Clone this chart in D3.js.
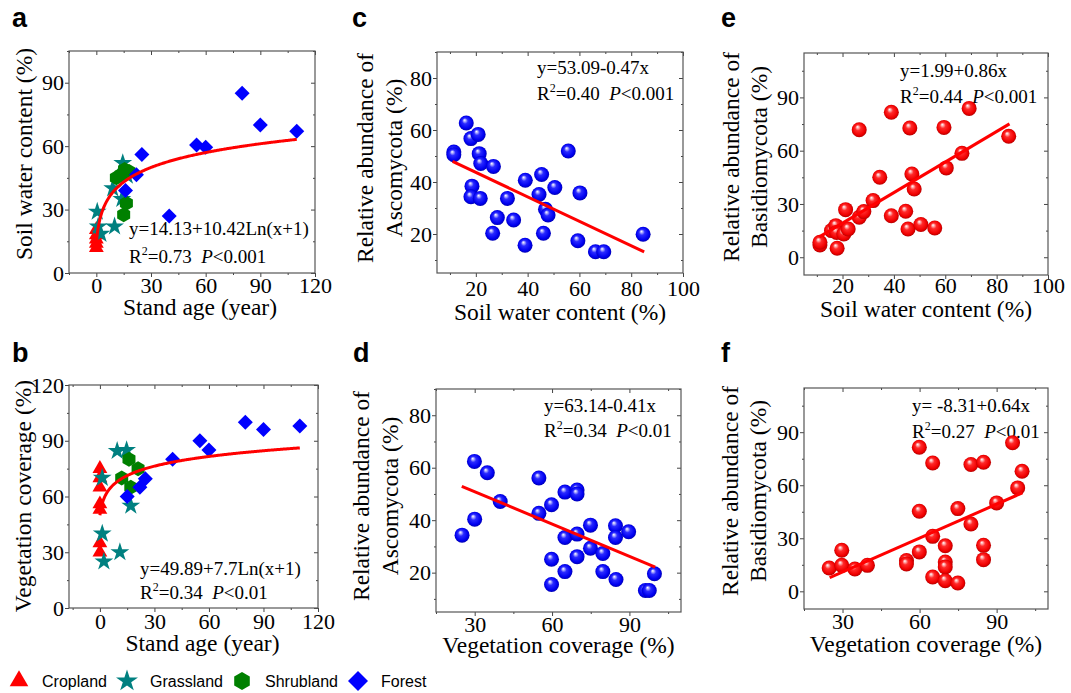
<!DOCTYPE html>
<html>
<head>
<meta charset="utf-8">
<script src="https://cdn.jsdelivr.net/npm/d3@7/dist/d3.min.js"></script>
<style>
  body { margin: 0; background: #fff; }
  svg { display: block; }
</style>
</head>
<body>
<div id="chart-area"></div>
<script>
// ---- data ----
// panel a: stand age (year) vs soil water content (%)
var cropSwc   = [[0,20.5],[0,18],[0,16],[0,14],[0,12]];
var grassSwc  = [[0.5,29],[1,22],[2.5,18.5],[10,22],[9,40],[14.5,52],[14,35],[17,46]];
var shrubSwc  = [[11,45],[13.5,46.5],[15.5,49],[16.5,33],[15,27.5],[18,48]];
var forestSwc = [[16,39],[22,46.5],[25,56],[40,27],[55,60.5],[60,59.5],[80,85],[90,70],[110,67]];

// panel b: stand age (year) vs vegetation coverage (%)
var cropVeg   = [[0,75],[0,70],[0,65],[0,56],[0,53],[0,35],[0,30]];
var grassVeg  = [[1.3,70],[1.3,40],[2.2,25],[9.5,84.5],[14.7,85],[11,30],[17,55]];
var shrubVeg  = [[16,80],[12,70],[21,75],[17,65]];
var forestVeg = [[15,60],[22,65],[25,69.5],[40,80],[55,90],[60,85],[80,100],[90,96],[110,98]];

// panel c: soil water content vs Ascomycota
var ascoSwc = [[11.5,51.5],[11.5,50.5],[16.3,62.7],[18.1,56.7],[20.9,58.3],[21.3,50.9],[21.9,47.1],
  [26.8,46],[18.5,38.4],[18.1,34.3],[21.7,33.7],[39.1,40.7],[45.4,42.9],[55.7,51.9],[50.5,37.9],
  [44.4,35.2],[60.2,35.8],[32.2,33.7],[28.3,26.3],[34.6,25.4],[26.5,20.3],[39,15.7],[46.1,20.3],
  [46.9,29.5],[47.9,27.3],[59.4,17.4],[66.2,13.2],[69.4,13.2],[84.6,19.9]];

// panel d: vegetation coverage vs Ascomycota
var ascoVeg = [[25.1,34.3],[29.9,62.4],[30,40.4],[34.9,58.1],[39.9,47.1],[54.9,56.1],[54.9,42.6],
  [59.8,45.9],[59.8,25.1],[59.8,15.5],[65,50.7],[65,33.4],[65,20.4],[69.7,51.5],[69.7,50],
  [69.7,34.7],[69.7,26.1],[74.9,38.1],[74.9,29.3],[79.7,27.3],[79.7,20.4],[84.6,37.9],[84.6,33.4],
  [84.8,17.4],[89.7,35.6],[96.2,13.2],[97.7,13.2],[99.7,19.6]];

// panel e: soil water content vs Basidiomycota
var basidSwc = [[11.2,6.9],[11.2,8.4],[17.9,5.1],[15.7,15],[17.4,17.8],[17.7,14],[20.5,13.1],
  [22.2,15.9],[21.2,26.8],[26.5,22.5],[28.3,25.7],[26.5,71.8],[31.9,31.9],[34.5,45],[39,23.4],
  [39,81.6],[44.6,25.9],[45.5,15.9],[46.2,72.8],[47,46.9],[47.9,38.4],[50.5,18.4],[55.9,16.5],
  [59.5,73.1],[60.4,50.3],[66.5,58.5],[69.3,83.8],[84.7,68.1]];

// panel f: vegetation coverage vs Basidiomycota
var basidVeg = [[24.8,13.2],[29.7,23.2],[29.7,14.7],[34.8,12.6],[39.7,14.7],[54.9,17.4],[54.9,15.5],
  [59.9,81.5],[59.9,45.3],[59.9,22.3],[65.1,72.6],[65.1,31.1],[65.1,8.1],[70,25.8],[70,16.6],
  [70,13.8],[70,6],[74.9,4.7],[74.9,46.8],[80,71.7],[80,38.1],[84.9,73],[84.9,26],[84.9,17.9],
  [90,50],[96.2,84],[98.2,58.5],[99.9,67.9]];

// fitted equations: [intercept, slope], x range
var fitA = [14.13, 10.42], fitARange = [0, 110];
var fitB = [49.89, 7.7],   fitBRange = [0, 110];
var fitC = [53.09, -0.47], fitCRange = [11, 85];
var fitD = [63.14, -0.41], fitDRange = [25, 100];
var fitE = [1.99, 0.86],   fitERange = [11, 85];
var fitF = [-8.31, 0.64],  fitFRange = [25, 100];

var groups = ["Cropland", "Grassland", "Shrubland", "Forest"];
var groupColors = ["#ff0000", "#008080", "#008000", "#0000ff"];

var serif = "'Liberation Serif', 'Times New Roman', serif";
var sans = "'Liberation Sans', Arial, sans-serif";

var svg = d3.select("#chart-area")
  .append("svg")
    .attr("width", 1071)
    .attr("height", 693);

// ball gradients
var defs = svg.append("defs");
function ballGrad(id, stops) {
  var gr = defs.append("radialGradient").attr("id", id)
    .attr("cx", "50%").attr("cy", "50%").attr("r", "55%")
    .attr("fx", "38%").attr("fy", "30%");
  stops.forEach(function(s) {
    gr.append("stop").attr("offset", s[0]).attr("stop-color", s[1]);
  });
}
ballGrad("blueBall", [["0%","#ffffff"],["14%","#b0b0ff"],["35%","#2a2aff"],["75%","#0000f0"],["100%","#0000a0"]]);
ballGrad("redBall",  [["0%","#ffffff"],["14%","#ffb0b0"],["35%","#ff2a2a"],["75%","#f00000"],["100%","#a00000"]]);

function hexPath(r) {
  var pts = d3.range(6).map(function(i) {
    var a = Math.PI / 3 * i - Math.PI / 2;
    return [r * Math.cos(a), r * Math.sin(a)];
  });
  return "M" + pts.join("L") + "Z";
}
function diamondPath(r) {
  return "M0," + (-r) + "L" + r + ",0L0," + r + "L" + (-r) + ",0Z";
}
function markerPath(group, big) {
  if (group === "Cropland") return d3.symbol().type(d3.symbolTriangle).size(big ? 150 : 95)();
  if (group === "Grassland") return d3.symbol().type(d3.symbolStar).size(big ? 150 : 110)();
  if (group === "Shrubland") return hexPath(big ? 9 : 7.5);
  return diamondPath(big ? 10 : 7.5);
}

// one framed panel with mirrored ticks
function panel(p) {
  var g = svg.append("g");
  var x = d3.scaleLinear().domain(p.xDomain).range([p.left, p.right]);
  var y = d3.scaleLinear().domain(p.yDomain).range([p.bottom, p.top]);

  function styleAxis(sel) {
    sel.select(".domain").remove();
    sel.selectAll("line").attr("stroke", "#444");
    sel.attr("font-family", serif).attr("font-size", 22).attr("fill", "#000");
    sel.selectAll("text").attr("fill", "#000");
  }

  // bottom
  var xb = g.append("g").attr("transform", "translate(0," + p.bottom + ")")
    .call(d3.axisBottom(x).tickValues(p.xMajor).tickSize(4).tickFormat(d3.format("d")));
  styleAxis(xb);
  xb.selectAll("text").attr("y", p.xTickBase).attr("dy", null);
  g.append("g").attr("transform", "translate(0," + p.bottom + ")")
    .call(d3.axisBottom(x).tickValues(p.xMinor).tickSize(2).tickFormat(""))
    .call(styleAxis);
  // top (inward)
  g.append("g").attr("transform", "translate(0," + p.top + ")")
    .call(d3.axisTop(x).tickValues(p.xMajor).tickSize(-4).tickFormat(""))
    .call(styleAxis);
  g.append("g").attr("transform", "translate(0," + p.top + ")")
    .call(d3.axisTop(x).tickValues(p.xMinor).tickSize(-2).tickFormat(""))
    .call(styleAxis);
  // left
  var yl = g.append("g").attr("transform", "translate(" + p.left + ",0)")
    .call(d3.axisLeft(y).tickValues(p.yMajor).tickSize(4).tickPadding(1).tickFormat(d3.format("d")));
  styleAxis(yl);
  g.append("g").attr("transform", "translate(" + p.left + ",0)")
    .call(d3.axisLeft(y).tickValues(p.yMinor).tickSize(2).tickFormat(""))
    .call(styleAxis);
  // right (inward)
  g.append("g").attr("transform", "translate(" + p.right + ",0)")
    .call(d3.axisRight(y).tickValues(p.yMajor).tickSize(-4).tickFormat(""))
    .call(styleAxis);
  g.append("g").attr("transform", "translate(" + p.right + ",0)")
    .call(d3.axisRight(y).tickValues(p.yMinor).tickSize(-2).tickFormat(""))
    .call(styleAxis);

  // frame
  g.append("rect")
    .attr("x", p.left).attr("y", p.top)
    .attr("width", p.right - p.left).attr("height", p.bottom - p.top)
    .attr("fill", "none").attr("stroke", "#555").attr("stroke-width", 1.2);

  // panel letter
  g.append("text")
    .attr("x", p.letterX).attr("y", p.letterY)
    .attr("font-family", sans).attr("font-weight", "bold").attr("font-size", 27)
    .text(p.letter);

  // x title
  g.append("text")
    .attr("x", (p.left + p.right) / 2 + (p.xTitleShift || 0)).attr("y", p.bottom + p.xTitleBase)
    .attr("text-anchor", "middle")
    .attr("font-family", serif).attr("font-size", 23.5)
    .text(p.xTitle);

  // y title (one or two lines)
  p.yTitle.forEach(function(t, i) {
    g.append("text")
      .attr("transform", "translate(" + p.yTitleX[i] + "," + p.yTitleY + ") rotate(-90)")
      .attr("text-anchor", "middle")
      .attr("font-family", serif).attr("font-size", 23.5)
      .text(t);
  });

  // equation text
  var eq = g.append("text").attr("font-family", serif).attr("font-size", 19);
  eq.append("tspan").attr("x", p.eqX).attr("y", p.eqY).text(p.eq);
  var l2 = g.append("text").attr("font-family", serif).attr("font-size", 19)
    .attr("x", p.eqX).attr("y", p.eqY + p.eqGap);
  l2.append("tspan").text("R");
  l2.append("tspan").attr("font-size", 12).attr("dy", -8).text("2");
  l2.append("tspan").attr("dy", 8).text("=" + p.r2 + "\u00a0\u00a0");
  l2.append("tspan").attr("font-style", "italic").text("P");
  l2.append("tspan").text("<" + p.pval);

  return {g: g, x: x, y: y};
}

var panelA = panel({
  left: 69, right: 315, top: 51, bottom: 273,
  xDomain: [-15, 120], yDomain: [0, 105],
  xMajor: [0, 30, 60, 90, 120], xMinor: [-15, 15, 45, 75, 105],
  yMajor: [0, 30, 60, 90], yMinor: [15, 45, 75, 105],
  xTickBase: 20, xTitleBase: 42, xTitleShift: 8,
  letter: "a", letterX: 12, letterY: 27,
  xTitle: "Stand age (year)",
  yTitle: ["Soil water content (%)"], yTitleX: [32], yTitleY: 154,
  eq: "y=14.13+10.42Ln(x+1)", eqX: 129, eqY: 235, eqGap: 28, r2: "0.73", pval: "0.001"
});
var panelB = panel({
  left: 69, right: 318, top: 385, bottom: 608,
  xDomain: [-17, 120], yDomain: [0, 120],
  xMajor: [0, 30, 60, 90, 120], xMinor: [-15, 15, 45, 75, 105],
  yMajor: [0, 30, 60, 90, 120], yMinor: [15, 45, 75, 105],
  xTickBase: 21, xTitleBase: 43, xTitleShift: 9,
  letter: "b", letterX: 12, letterY: 362,
  xTitle: "Stand age (year)",
  yTitle: ["Vegetation coverage (%)"], yTitleX: [31], yTitleY: 496,
  eq: "y=49.89+7.7Ln(x+1)", eqX: 140, eqY: 575, eqGap: 24, r2: "0.34", pval: "0.01"
});
var panelC = panel({
  left: 437, right: 683, top: 52, bottom: 273,
  xDomain: [5, 100], yDomain: [5, 90],
  xMajor: [20, 40, 60, 80, 100], xMinor: [10, 30, 50, 70, 90],
  yMajor: [20, 40, 60, 80], yMinor: [10, 30, 50, 70, 90],
  xTickBase: 23, xTitleBase: 47,
  letter: "c", letterX: 352, letterY: 27,
  xTitle: "Soil water content (%)",
  yTitle: ["Relative abundance of", "Ascomycota (%)"], yTitleX: [373, 402], yTitleY: 158,
  eq: "y=53.09-0.47x", eqX: 537, eqY: 74, eqGap: 26, r2: "0.40", pval: "0.001"
});
var panelD = panel({
  left: 436, right: 681, top: 389, bottom: 612,
  xDomain: [15, 110], yDomain: [5, 90],
  xMajor: [30, 60, 90], xMinor: [15, 45, 75, 105],
  yMajor: [20, 40, 60, 80], yMinor: [10, 30, 50, 70, 90],
  xTickBase: 20, xTitleBase: 41,
  letter: "d", letterX: 353, letterY: 362,
  xTitle: "Vegetation coverage (%)",
  yTitle: ["Relative abundance of", "Ascomycota (%)"], yTitleX: [369, 398], yTitleY: 496,
  eq: "y=63.14-0.41x", eqX: 544, eqY: 412, eqGap: 25, r2: "0.34", pval: "0.01"
});
var panelE = panel({
  left: 804, right: 1048, top: 53, bottom: 275,
  xDomain: [5, 100], yDomain: [-10, 115],
  xMajor: [20, 40, 60, 80, 100], xMinor: [10, 30, 50, 70, 90],
  yMajor: [0, 30, 60, 90], yMinor: [15, 45, 75, 105],
  xTickBase: 18, xTitleBase: 42,
  letter: "e", letterX: 721, letterY: 27,
  xTitle: "Soil water content (%)",
  yTitle: ["Relative abundance of", "Basidiomycota (%)"], yTitleX: [739, 767], yTitleY: 157,
  eq: "y=1.99+0.86x", eqX: 900, eqY: 77, eqGap: 26, r2: "0.44", pval: "0.001"
});
var panelF = panel({
  left: 804, right: 1048, top: 388, bottom: 609,
  xDomain: [15, 110], yDomain: [-10, 115],
  xMajor: [30, 60, 90], xMinor: [15, 45, 75, 105],
  yMajor: [0, 30, 60, 90], yMinor: [15, 45, 75, 105],
  xTickBase: 20, xTitleBase: 43,
  letter: "f", letterX: 721, letterY: 362,
  xTitle: "Vegetation coverage (%)",
  yTitle: ["Relative abundance of", "Basidiomycota (%)"], yTitleX: [738, 766], yTitleY: 491,
  eq: "y= -8.31+0.64x", eqX: 912, eqY: 412, eqGap: 26, r2: "0.27", pval: "0.01"
});

// scatter by land use
function drawGroups(pn, sets) {
  sets.forEach(function(data, i) {
    pn.g.selectAll(null)
      .data(data)
      .enter()
      .append("path")
        .attr("d", markerPath(groups[i], false))
        .attr("transform", function(d) { return "translate(" + pn.x(d[0]) + "," + pn.y(d[1]) + ")"; })
        .attr("fill", groupColors[i]);
  });
}
function drawBalls(pn, data, grad) {
  pn.g.selectAll(null)
    .data(data)
    .enter()
    .append("circle")
      .attr("cx", function(d) { return pn.x(d[0]); })
      .attr("cy", function(d) { return pn.y(d[1]); })
      .attr("r", 7.5)
      .attr("fill", "url(#" + grad + ")");
}
function drawLogFit(pn, fit, range) {
  var xs = d3.range(range[0], range[1] + 0.01, 0.5);
  var line = d3.line()
    .x(function(v) { return pn.x(v); })
    .y(function(v) { return pn.y(fit[0] + fit[1] * Math.log(v + 1)); });
  pn.g.append("path").datum(xs).attr("d", line)
    .attr("fill", "none").attr("stroke", "#ff0000").attr("stroke-width", 3);
}
function drawLinFit(pn, fit, range) {
  var line = d3.line()
    .x(function(v) { return pn.x(v); })
    .y(function(v) { return pn.y(fit[0] + fit[1] * v); });
  pn.g.append("path").datum(range).attr("d", line)
    .attr("fill", "none").attr("stroke", "#ff0000").attr("stroke-width", 3);
}

drawGroups(panelA, [cropSwc, grassSwc, shrubSwc, forestSwc]);
drawLogFit(panelA, fitA, fitARange);
drawGroups(panelB, [cropVeg, grassVeg, shrubVeg, forestVeg]);
drawLogFit(panelB, fitB, fitBRange);

drawBalls(panelC, ascoSwc, "blueBall");
drawLinFit(panelC, fitC, fitCRange);
drawBalls(panelD, ascoVeg, "blueBall");
drawLinFit(panelD, fitD, fitDRange);
drawBalls(panelE, basidSwc, "redBall");
drawLinFit(panelE, fitE, fitERange);
drawBalls(panelF, basidVeg, "redBall");
drawLinFit(panelF, fitF, fitFRange);

// legend
var legendX = [19, 127, 242, 358];
var legend = svg.append("g");
groups.forEach(function(name, i) {
  legend.append("path")
    .attr("d", markerPath(name, true))
    .attr("transform", "translate(" + legendX[i] + ",681)")
    .attr("fill", groupColors[i]);
  legend.append("text")
    .attr("x", legendX[i] + 23).attr("y", 687)
    .attr("font-family", sans).attr("font-size", 16)
    .text(name);
});
</script>
</body>
</html>
